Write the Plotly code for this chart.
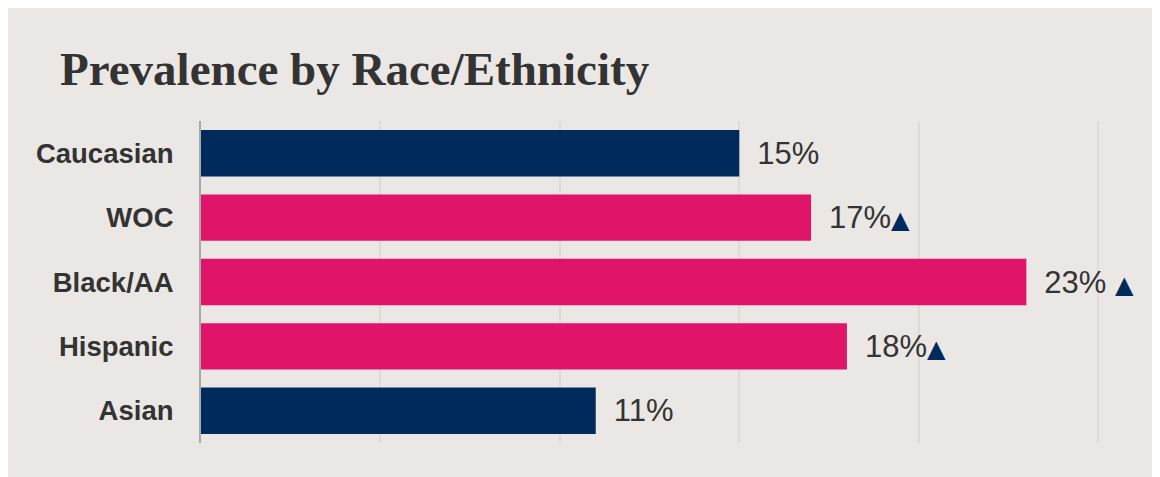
import plotly.graph_objects as go

# ---- data ----
categories = ["Caucasian", "WOC", "Black/AA", "Hispanic", "Asian"]
values = [15, 17, 23, 18, 11]
is_woc = [False, True, True, True, False]
sig_marker = ["", "▲", " ▲", "▲", ""]
title_text = "Prevalence by Race/Ethnicity"

NAVY = "#002a5c"
PINK = "#e0156a"
PANEL = "#ebe7e4"
TEXT = "#333333"

# page body has an 8px margin, so the figure starts at (8, 8)
W, H = 1152, 469
ML, MR, MT, MB = 193, 26, 113, 34

colors = [PINK if w else NAVY for w in is_woc]
texts = []
for v, m in zip(values, sig_marker):
    t = "<span style='font-size:27px'>\u00a0\u00a0</span>" + f"{v}%"
    if m:
        if m.startswith(" "):
            t += "\u00a0"
        t += (f"<span style='color:{NAVY};font-family:DejaVu Sans;font-size:24px'>"
              f"{m.strip()}</span>")
    texts.append(t)

fig = go.Figure(go.Bar(
    x=values, y=categories, orientation="h",
    marker=dict(color=colors, line=dict(width=0)),
    width=0.72,
    text=texts, textposition="outside",
    textfont=dict(family="Liberation Sans, Arial, sans-serif", size=31, color=TEXT),
    cliponaxis=False, constraintext="none", hoverinfo="skip",
))

fig.update_layout(
    width=W, height=H,
    margin=dict(l=ML, r=MR, t=MT, b=MB, pad=0),
    paper_bgcolor=PANEL, plot_bgcolor=PANEL,
    showlegend=False,
    title=dict(
        text=f"<b>{title_text}</b>",
        font=dict(family="Liberation Serif, serif", size=47, color=TEXT),
        xref="container", yref="container",
        x=52 / W, xanchor="left", y=1 - 60.5 / H, yanchor="middle",
    ),
    xaxis=dict(
        range=[0, 26], tick0=0, dtick=5,
        showgrid=True, gridcolor="#dedad6", gridwidth=1.5,
        showticklabels=False, zeroline=False, showline=False, ticks="",
        fixedrange=True,
    ),
    yaxis=dict(
        autorange="reversed",
        showline=True, linecolor="#a9a9a9", linewidth=2,
        ticks="", showgrid=False,
        tickfont=dict(family="Liberation Sans, Arial, sans-serif", size=27.5, color=TEXT, weight="bold"),
        ticklabelstandoff=20,
        fixedrange=True,
    ),
)

fig.write_html("out.html")
